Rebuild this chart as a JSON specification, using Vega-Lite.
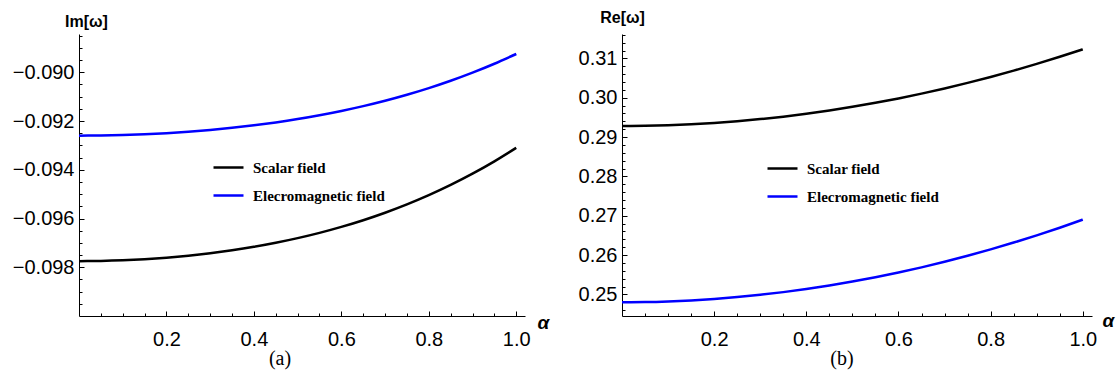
{
  "$schema": "https://vega.github.io/schema/vega-lite/v6.json",
  "background": "white",
  "padding": {"left": 12, "top": 9, "right": 4, "bottom": 4},
  "bounds": "flush",
  "spacing": 97,
  "datasets": {
    "im": [
      {"alpha": 0.00, "field": "Scalar field", "value": -0.097750},
      {"alpha": 0.05, "field": "Scalar field", "value": -0.097741},
      {"alpha": 0.10, "field": "Scalar field", "value": -0.097715},
      {"alpha": 0.15, "field": "Scalar field", "value": -0.097671},
      {"alpha": 0.20, "field": "Scalar field", "value": -0.097609},
      {"alpha": 0.25, "field": "Scalar field", "value": -0.097528},
      {"alpha": 0.30, "field": "Scalar field", "value": -0.097427},
      {"alpha": 0.35, "field": "Scalar field", "value": -0.097305},
      {"alpha": 0.40, "field": "Scalar field", "value": -0.097162},
      {"alpha": 0.45, "field": "Scalar field", "value": -0.096996},
      {"alpha": 0.50, "field": "Scalar field", "value": -0.096806},
      {"alpha": 0.55, "field": "Scalar field", "value": -0.096589},
      {"alpha": 0.60, "field": "Scalar field", "value": -0.096344},
      {"alpha": 0.65, "field": "Scalar field", "value": -0.096069},
      {"alpha": 0.70, "field": "Scalar field", "value": -0.095762},
      {"alpha": 0.75, "field": "Scalar field", "value": -0.095420},
      {"alpha": 0.80, "field": "Scalar field", "value": -0.095042},
      {"alpha": 0.85, "field": "Scalar field", "value": -0.094623},
      {"alpha": 0.90, "field": "Scalar field", "value": -0.094162},
      {"alpha": 0.95, "field": "Scalar field", "value": -0.093656},
      {"alpha": 1.00, "field": "Scalar field", "value": -0.093100},
      {"alpha": 0.00, "field": "Elecromagnetic field", "value": -0.092600},
      {"alpha": 0.05, "field": "Elecromagnetic field", "value": -0.092594},
      {"alpha": 0.10, "field": "Elecromagnetic field", "value": -0.092575},
      {"alpha": 0.15, "field": "Elecromagnetic field", "value": -0.092543},
      {"alpha": 0.20, "field": "Elecromagnetic field", "value": -0.092498},
      {"alpha": 0.25, "field": "Elecromagnetic field", "value": -0.092440},
      {"alpha": 0.30, "field": "Elecromagnetic field", "value": -0.092367},
      {"alpha": 0.35, "field": "Elecromagnetic field", "value": -0.092280},
      {"alpha": 0.40, "field": "Elecromagnetic field", "value": -0.092177},
      {"alpha": 0.45, "field": "Elecromagnetic field", "value": -0.092057},
      {"alpha": 0.50, "field": "Elecromagnetic field", "value": -0.091920},
      {"alpha": 0.55, "field": "Elecromagnetic field", "value": -0.091763},
      {"alpha": 0.60, "field": "Elecromagnetic field", "value": -0.091587},
      {"alpha": 0.65, "field": "Elecromagnetic field", "value": -0.091389},
      {"alpha": 0.70, "field": "Elecromagnetic field", "value": -0.091168},
      {"alpha": 0.75, "field": "Elecromagnetic field", "value": -0.090922},
      {"alpha": 0.80, "field": "Elecromagnetic field", "value": -0.090649},
      {"alpha": 0.85, "field": "Elecromagnetic field", "value": -0.090348},
      {"alpha": 0.90, "field": "Elecromagnetic field", "value": -0.090015},
      {"alpha": 0.95, "field": "Elecromagnetic field", "value": -0.089650},
      {"alpha": 1.00, "field": "Elecromagnetic field", "value": -0.089250}
    ],
    "re": [
      {"alpha": 0.00, "field": "Scalar field", "value": 0.29280},
      {"alpha": 0.05, "field": "Scalar field", "value": 0.29285},
      {"alpha": 0.10, "field": "Scalar field", "value": 0.29300},
      {"alpha": 0.15, "field": "Scalar field", "value": 0.29324},
      {"alpha": 0.20, "field": "Scalar field", "value": 0.29358},
      {"alpha": 0.25, "field": "Scalar field", "value": 0.29402},
      {"alpha": 0.30, "field": "Scalar field", "value": 0.29456},
      {"alpha": 0.35, "field": "Scalar field", "value": 0.29519},
      {"alpha": 0.40, "field": "Scalar field", "value": 0.29592},
      {"alpha": 0.45, "field": "Scalar field", "value": 0.29675},
      {"alpha": 0.50, "field": "Scalar field", "value": 0.29768},
      {"alpha": 0.55, "field": "Scalar field", "value": 0.29870},
      {"alpha": 0.60, "field": "Scalar field", "value": 0.29982},
      {"alpha": 0.65, "field": "Scalar field", "value": 0.30104},
      {"alpha": 0.70, "field": "Scalar field", "value": 0.30236},
      {"alpha": 0.75, "field": "Scalar field", "value": 0.30377},
      {"alpha": 0.80, "field": "Scalar field", "value": 0.30528},
      {"alpha": 0.85, "field": "Scalar field", "value": 0.30689},
      {"alpha": 0.90, "field": "Scalar field", "value": 0.30860},
      {"alpha": 0.95, "field": "Scalar field", "value": 0.31040},
      {"alpha": 1.00, "field": "Scalar field", "value": 0.31230},
      {"alpha": 0.00, "field": "Elecromagnetic field", "value": 0.24800},
      {"alpha": 0.05, "field": "Elecromagnetic field", "value": 0.24805},
      {"alpha": 0.10, "field": "Elecromagnetic field", "value": 0.24821},
      {"alpha": 0.15, "field": "Elecromagnetic field", "value": 0.24847},
      {"alpha": 0.20, "field": "Elecromagnetic field", "value": 0.24884},
      {"alpha": 0.25, "field": "Elecromagnetic field", "value": 0.24931},
      {"alpha": 0.30, "field": "Elecromagnetic field", "value": 0.24989},
      {"alpha": 0.35, "field": "Elecromagnetic field", "value": 0.25057},
      {"alpha": 0.40, "field": "Elecromagnetic field", "value": 0.25136},
      {"alpha": 0.45, "field": "Elecromagnetic field", "value": 0.25225},
      {"alpha": 0.50, "field": "Elecromagnetic field", "value": 0.25325},
      {"alpha": 0.55, "field": "Elecromagnetic field", "value": 0.25435},
      {"alpha": 0.60, "field": "Elecromagnetic field", "value": 0.25556},
      {"alpha": 0.65, "field": "Elecromagnetic field", "value": 0.25687},
      {"alpha": 0.70, "field": "Elecromagnetic field", "value": 0.25829},
      {"alpha": 0.75, "field": "Elecromagnetic field", "value": 0.25981},
      {"alpha": 0.80, "field": "Elecromagnetic field", "value": 0.26144},
      {"alpha": 0.85, "field": "Elecromagnetic field", "value": 0.26317},
      {"alpha": 0.90, "field": "Elecromagnetic field", "value": 0.26501},
      {"alpha": 0.95, "field": "Elecromagnetic field", "value": 0.26695},
      {"alpha": 1.00, "field": "Elecromagnetic field", "value": 0.26900}
    ]
  },
  "hconcat": [
    {
      "width": 446,
      "height": 282,
      "data": {"name": "im"},
      "title": {"text": "(a)", "orient": "bottom", "anchor": "middle", "dx": -22, "offset": 0, "font": "Liberation Serif", "fontSize": 20, "fontWeight": "normal", "color": "#000"},
      "layer": [
        {
          "mark": {"type": "line", "strokeWidth": 2.5, "interpolate": "monotone"},
          "encoding": {
            "x": {
              "field": "alpha", "type": "quantitative",
              "scale": {"domain": [0, 1.02], "nice": false, "zero": false},
              "axis": {"values": [0.2, 0.4, 0.6, 0.8, 1.0], "format": ".1f", "tickSize": -5, "labelPadding": 18,
                       "title": "α", "titleX": 464, "titleY": 6, "titleAlign": "center", "titleBaseline": "middle",
                       "titleFontStyle": "italic", "titleFontWeight": "bold", "titleFontSize": 19}
            },
            "y": {
              "field": "value", "type": "quantitative",
              "scale": {"domain": [-0.1, -0.08843], "nice": false, "zero": false},
              "axis": {"values": [-0.098, -0.096, -0.094, -0.092, -0.09], "format": ".3f", "tickSize": -5, "labelPadding": 10,
                       "title": "Im[ω]", "titleAngle": 0, "titleX": 7, "titleY": -13, "titleAlign": "center", "titleBaseline": "middle",
                       "titleFontWeight": "bold", "titleFontSize": 16}
            },
            "color": {
              "field": "field", "type": "nominal",
              "scale": {"domain": ["Scalar field", "Elecromagnetic field"], "range": ["#000000", "#0000ff"]},
              "legend": {"orient": "none", "legendX": 133, "legendY": 117, "title": null}
            }
          }
        },
        {
          "mark": {"type": "line", "opacity": 0},
          "encoding": {
            "x": {
              "field": "alpha", "type": "quantitative",
              "axis": {"orient": "bottom", "values": [0.05, 0.1, 0.15, 0.25, 0.3, 0.35, 0.45, 0.5, 0.55, 0.65, 0.7, 0.75, 0.85, 0.9, 0.95],
                       "labels": false, "tickSize": -3, "domain": false, "title": null}
            },
            "y": {
              "field": "value", "type": "quantitative",
              "axis": {"orient": "left",
                       "values": [-0.0995, -0.099, -0.0985, -0.0975, -0.097, -0.0965, -0.0955, -0.095, -0.0945, -0.0935, -0.093, -0.0925, -0.0915, -0.091, -0.0905, -0.0895, -0.089, -0.0885],
                       "labels": false, "tickSize": -3, "domain": false, "title": null}
            }
          }
        }
      ],
      "resolve": {"axis": {"x": "independent", "y": "independent"}}
    },
    {
      "width": 470,
      "height": 282,
      "data": {"name": "re"},
      "title": {"text": "(b)", "orient": "bottom", "anchor": "middle", "dx": -15, "offset": 0, "font": "Liberation Serif", "fontSize": 20, "fontWeight": "normal", "color": "#000"},
      "layer": [
        {
          "mark": {"type": "line", "strokeWidth": 2.5, "interpolate": "monotone"},
          "encoding": {
            "x": {
              "field": "alpha", "type": "quantitative",
              "scale": {"domain": [0, 1.02], "nice": false, "zero": false},
              "axis": {"values": [0.2, 0.4, 0.6, 0.8, 1.0], "format": ".1f", "tickSize": -5, "labelPadding": 18,
                       "title": "α", "titleX": 486, "titleY": 4, "titleAlign": "center", "titleBaseline": "middle",
                       "titleFontStyle": "italic", "titleFontWeight": "bold", "titleFontSize": 19}
            },
            "y": {
              "field": "value", "type": "quantitative",
              "scale": {"domain": [0.2445, 0.3162], "nice": false, "zero": false},
              "axis": {"values": [0.25, 0.26, 0.27, 0.28, 0.29, 0.3, 0.31], "format": ".2f", "tickSize": -5, "labelPadding": 10,
                       "title": "Re[ω]", "titleAngle": 0, "titleX": 0, "titleY": -17, "titleAlign": "center", "titleBaseline": "middle",
                       "titleFontWeight": "bold", "titleFontSize": 16}
            },
            "color": {
              "field": "field", "type": "nominal",
              "scale": {"domain": ["Scalar field", "Elecromagnetic field"], "range": ["#000000", "#0000ff"]},
              "legend": {"orient": "none", "legendX": 144, "legendY": 118, "title": null}
            }
          }
        },
        {
          "mark": {"type": "line", "opacity": 0},
          "encoding": {
            "x": {
              "field": "alpha", "type": "quantitative",
              "axis": {"orient": "bottom", "values": [0.05, 0.1, 0.15, 0.25, 0.3, 0.35, 0.45, 0.5, 0.55, 0.65, 0.7, 0.75, 0.85, 0.9, 0.95],
                       "labels": false, "tickSize": -3, "domain": false, "title": null}
            },
            "y": {
              "field": "value", "type": "quantitative",
              "axis": {"orient": "left",
                       "values": [0.246, 0.248, 0.252, 0.254, 0.256, 0.258, 0.262, 0.264, 0.266, 0.268, 0.272, 0.274, 0.276, 0.278, 0.282, 0.284, 0.286, 0.288, 0.292, 0.294, 0.296, 0.298, 0.302, 0.304, 0.306, 0.308, 0.312, 0.314, 0.316],
                       "labels": false, "tickSize": -3, "domain": false, "title": null}
            }
          }
        }
      ],
      "resolve": {"axis": {"x": "independent", "y": "independent"}}
    }
  ],
  "resolve": {"scale": {"color": "independent"}, "legend": {"color": "independent"}},
  "config": {
    "view": {"stroke": null},
    "font": "Liberation Sans",
    "axis": {
      "grid": false,
      "domainColor": "#000",
      "domainWidth": 1,
      "tickColor": "#000",
      "tickWidth": 1,
      "labelFont": "Liberation Sans",
      "labelFontSize": 20,
      "labelColor": "#000",
      "titleFont": "Liberation Sans",
      "titleColor": "#000"
    },
    "legend": {
      "symbolType": "stroke",
      "symbolSize": 900,
      "symbolStrokeWidth": 2.5,
      "labelFont": "Liberation Serif",
      "labelFontWeight": "bold",
      "labelFontSize": 15,
      "labelColor": "#000",
      "labelOffset": 8,
      "rowPadding": 3,
      "padding": 0
    }
  }
}
